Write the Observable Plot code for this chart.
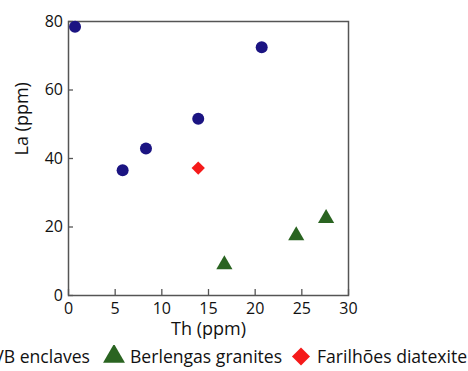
<!DOCTYPE html>
<html>
<head>
<meta charset="utf-8">
<script src="https://cdn.jsdelivr.net/npm/d3@7"></script>
<script src="https://cdn.jsdelivr.net/npm/@observablehq/plot@0.6"></script>
<style>
  body { margin: 0; background: #fff; }
  #wrap { position: relative; width: 468px; height: 371px; overflow: hidden; background: #fff; font-family: "Open Sans", sans-serif; color: #111; }
  #legend { position: absolute; left: 0; top: 345px; width: 468px; height: 22px; font-size: 17.6px; }
  .item { position: absolute; top: 0; height: 22px; display: flex; align-items: center; white-space: nowrap; }
  .item svg { margin-right: 4px; flex: none; }
</style>
</head>
<body>
<div id="wrap"></div>
<script>
// Series: Th (ppm) vs La (ppm)
const enclavesTh = [0.7, 5.8, 8.3, 13.9, 20.7];
const enclavesLa = [78.5, 36.6, 42.9, 51.6, 72.5];
const granitesTh = [16.7, 24.4, 27.6];
const granitesLa = [9.0, 17.5, 22.5];
const diatexiteTh = [13.9];
const diatexiteLa = [37.2];

const seriesNames = ["VB enclaves", "Berlengas granites", "Farilhões diatexite"];
const seriesColors = ["#1b1482", "#2a6421", "#f51a1a"];
const seriesSymbols = ["circle", "triangle", "diamond2"];

const xTicks = [0, 5, 10, 15, 20, 25, 30];
const yTicks = [0, 20, 40, 60, 80];

const data = [
  ...enclavesTh.map((th, i) => ({th, la: enclavesLa[i], s: 0})),
  ...granitesTh.map((th, i) => ({th, la: granitesLa[i], s: 1})),
  ...diatexiteTh.map((th, i) => ({th, la: diatexiteLa[i], s: 2}))
];

const plot = Plot.plot({
  width: 468,
  height: 346,
  marginLeft: 68,
  marginTop: 21,
  marginRight: 120,
  marginBottom: 51,
  style: {fontFamily: "Open Sans, sans-serif", fontSize: "16px", color: "#111", background: "#fff"},
  x: {domain: [0, 30]},
  y: {domain: [0, 80]},
  marks: [
    Plot.axisX(xTicks, {tickSize: -6, tickPadding: 13, stroke: "#555", strokeWidth: 1.3, fontSize: 16, label: null}),
    Plot.axisY(yTicks, {tickSize: -5, tickPadding: 10.5, stroke: "#555", strokeWidth: 1.3, fontSize: 16, label: null}),
    Plot.frame({stroke: "#555", strokeWidth: 1.5}),
    Plot.dot(data, {
      x: "th", y: "la",
      r: 6,
      symbol: d => seriesSymbols[d.s],
      fill: d => seriesColors[d.s],
      stroke: null
    }),
    Plot.text(["Th (ppm)"], {frameAnchor: "bottom", dy: 39.5, fontSize: 18, fill: "#111"}),
    Plot.text(["La (ppm)"], {frameAnchor: "left", dx: -46, dy: -3, rotate: -90, fontSize: 18, fill: "#111"})
  ]
});

const wrap = document.getElementById("wrap");
wrap.appendChild(plot);

// Legend (clipped at both sides like the reference)
const legend = document.createElement("div");
legend.id = "legend";
const itemLeft = [null, 102, 289];
seriesNames.forEach((name, i) => {
  const it = document.createElement("div");
  it.className = "item";
  if (i === 0) { it.style.right = (468 - 90) + "px"; }
  else { it.style.left = itemLeft[i] + "px"; }
  const sw = d3.create("svg").attr("width", 24).attr("height", 22);
  const sym = {circle: d3.symbolCircle, triangle: d3.symbolTriangle, diamond2: d3.symbolDiamond2}[seriesSymbols[i]];
  sw.append("path")
    .attr("transform", "translate(12,11.5)")
    .attr("d", d3.symbol(sym, 208)())
    .attr("fill", seriesColors[i]);
  it.appendChild(sw.node());
  const t = document.createElement("span");
  t.textContent = name;
  it.appendChild(t);
  legend.appendChild(it);
});
wrap.appendChild(legend);
</script>
</body>
</html>
